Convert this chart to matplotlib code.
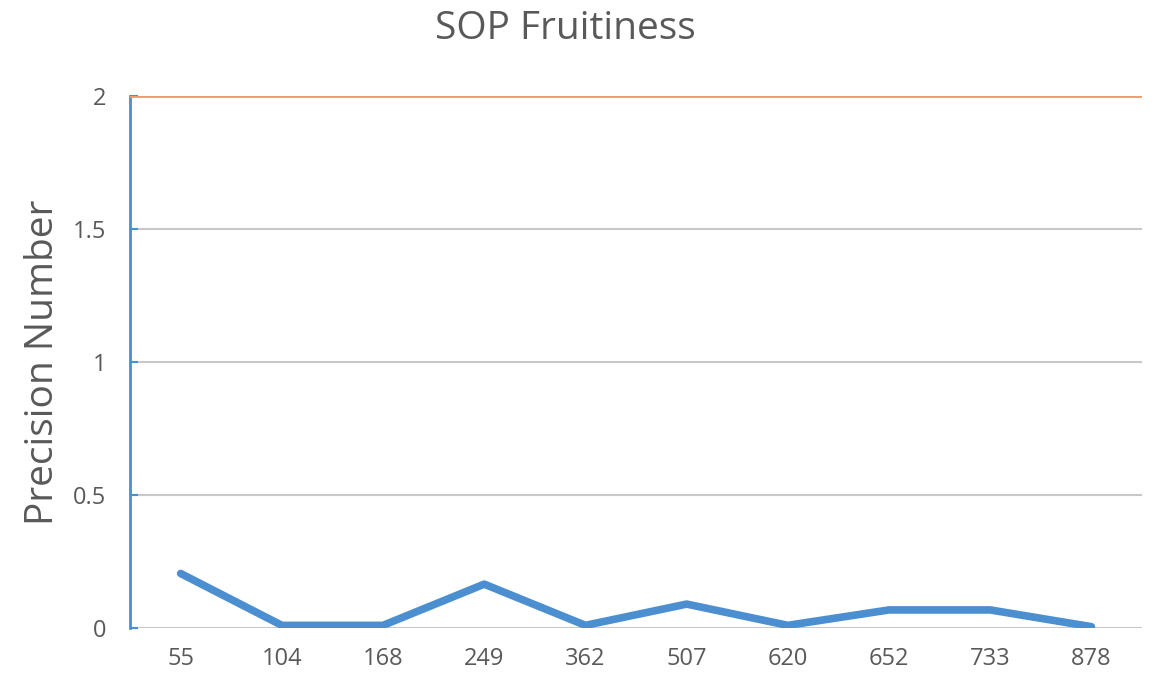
import matplotlib.pyplot as plt

plt.rcParams['font.family'] = ['Open Sans', 'DejaVu Sans']

categories = ['55', '104', '168', '249', '362', '507', '620', '652', '733', '878']
precision = [0.205, 0.01, 0.01, 0.165, 0.01, 0.09, 0.01, 0.068, 0.068, 0.005]
threshold = 2
yticks = [0, 0.5, 1, 1.5, 2]
ytick_labels = ['0', '0.5', '1', '1.5', '2']

fig = plt.figure(figsize=(11.54, 6.83), dpi=100)
ax = fig.add_axes([0.1127, 0.0805, 0.8769, 0.7789])

x = range(len(categories))
ax.plot(x, precision, color='#4b8fd0', lw=5.5, solid_capstyle='round', solid_joinstyle='round', zorder=3)
ax.axhline(threshold, color='#ef9b72', lw=2, zorder=4)

ax.set_xlim(-0.5, len(categories) - 0.5)
ax.set_ylim(0, 2)
ax.set_xticks(list(x))
ax.set_xticklabels(categories)
ax.set_yticks(yticks)
ax.set_yticklabels(ytick_labels)
ax.yaxis.grid(True, color='#c8c8c8', lw=1.5)
ax.set_axisbelow(True)

for s in ['top', 'right', 'bottom']:
    ax.spines[s].set_visible(False)
ax.spines['left'].set_color('#4b8fd0')
ax.spines['left'].set_linewidth(2)

ax.tick_params(axis='x', length=0, pad=14, labelsize=17, labelcolor='#595959')
ax.tick_params(axis='y', direction='in', length=6, width=1.5, color='#4b8fd0', pad=17, labelsize=17, labelcolor='#595959')

ax.set_ylabel('Precision Number', fontsize=28, color='#595959', labelpad=8)
fig.suptitle('SOP Fruitiness', x=0.49, y=0.985, fontsize=28, color='#595959')

fig.savefig('out.png', dpi=100)
